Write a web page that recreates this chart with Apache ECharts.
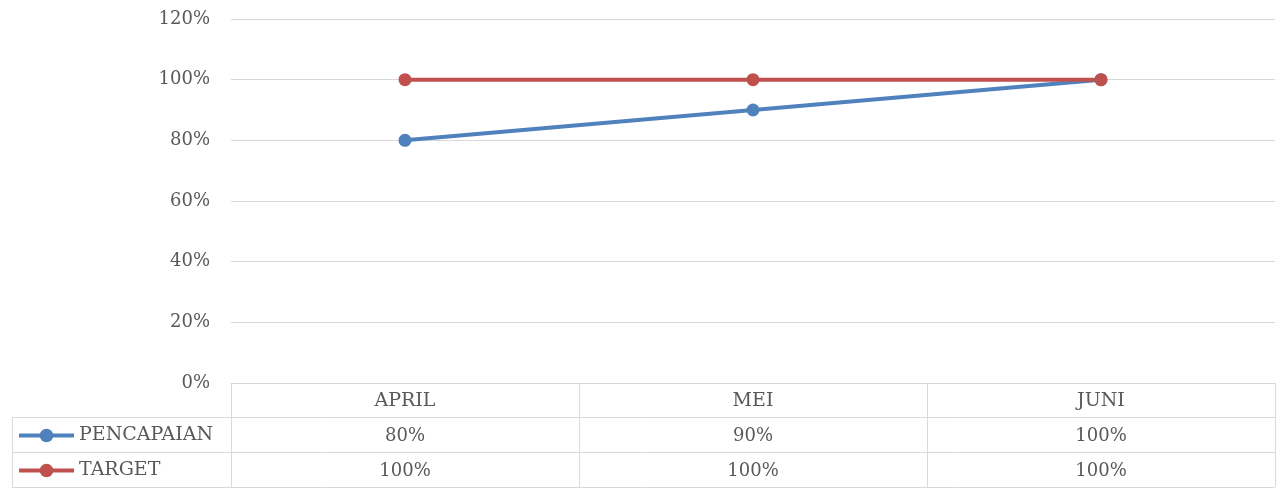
<!DOCTYPE html>
<html><head><meta charset="utf-8">
<script src="https://cdn.jsdelivr.net/npm/echarts@6/dist/echarts.min.js"></script>
<style>html,body{margin:0;padding:0;background:#fff}#c{width:1280px;height:489px}</style>
</head><body><div id="c"></div>
<script>
var categories = ['APRIL', 'MEI', 'JUNI'];
var pencapaian = [80, 90, 100];
var target = [100, 100, 100];
var seriesNames = ['PENCAPAIAN', 'TARGET'];

var FONT = 'DejaVu Serif';
var TXT = '#595959';
var GRID = '#d9d9d9';
var chart = echarts.init(document.getElementById('c'));
var L = 231, R = 5, T = 19, B = 106;

function rowAxis(offset, data) {
  return {
    type: 'category', data: categories, gridIndex: 0, position: 'bottom', offset: offset,
    axisLine: {show: false}, axisTick: {show: false}, splitLine: {show: false},
    axisLabel: {margin: 9, fontFamily: FONT, fontSize: 18, color: TXT,
      formatter: function (v, i) { return data[i] + '%'; }}
  };
}
function legendRow(name, top) {
  return {
    orient: 'horizontal', left: 17, top: top, padding: 0, itemWidth: 55, itemHeight: 17, itemGap: 0,
    itemStyle: {borderWidth: 0},
    lineStyle: {width: 4},
    textStyle: {fontFamily: FONT, fontSize: 19, color: TXT},
    data: [name]
  };
}

chart.setOption({
  animation: false,
  grid: {left: L, right: R, top: T, bottom: B, containLabel: false},
  legend: [legendRow(seriesNames[0], 426), legendRow(seriesNames[1], 461)],
  xAxis: [
    {type: 'category', data: categories,
      axisLine: {lineStyle: {color: GRID, width: 1}},
      axisTick: {show: true, length: 104, lineStyle: {color: GRID}},
      axisLabel: {margin: 9, fontFamily: FONT, fontSize: 19, color: TXT}},
    rowAxis(35, pencapaian),
    rowAxis(70, target)
  ],
  yAxis: {
    type: 'value', min: 0, max: 120, interval: 20,
    axisLine: {show: false}, axisTick: {show: false},
    splitLine: {lineStyle: {color: GRID, width: 1}},
    axisLabel: {margin: 21, fontFamily: FONT, fontSize: 18, color: TXT,
      formatter: function (v) { return v + '%'; }}
  },
  graphic: [
    {type: 'line', shape: {x1: 12, y1: 417.5, x2: 1275, y2: 417.5}, style: {stroke: GRID, lineWidth: 1}},
    {type: 'line', shape: {x1: 12, y1: 452.5, x2: 1275, y2: 452.5}, style: {stroke: GRID, lineWidth: 1}},
    {type: 'line', shape: {x1: 12, y1: 487.5, x2: 1275, y2: 487.5}, style: {stroke: GRID, lineWidth: 1}},
    {type: 'line', shape: {x1: 12.5, y1: 417, x2: 12.5, y2: 488}, style: {stroke: GRID, lineWidth: 1}}
  ],
  series: [
    {name: seriesNames[0], type: 'line', data: pencapaian, symbol: 'circle', symbolSize: 13,
      lineStyle: {color: '#4F81BD', width: 4}, itemStyle: {color: '#4F81BD'}},
    {name: seriesNames[1], type: 'line', data: target, symbol: 'circle', symbolSize: 13,
      lineStyle: {color: '#C0504D', width: 4}, itemStyle: {color: '#C0504D'}}
  ]
});
</script></body></html>
